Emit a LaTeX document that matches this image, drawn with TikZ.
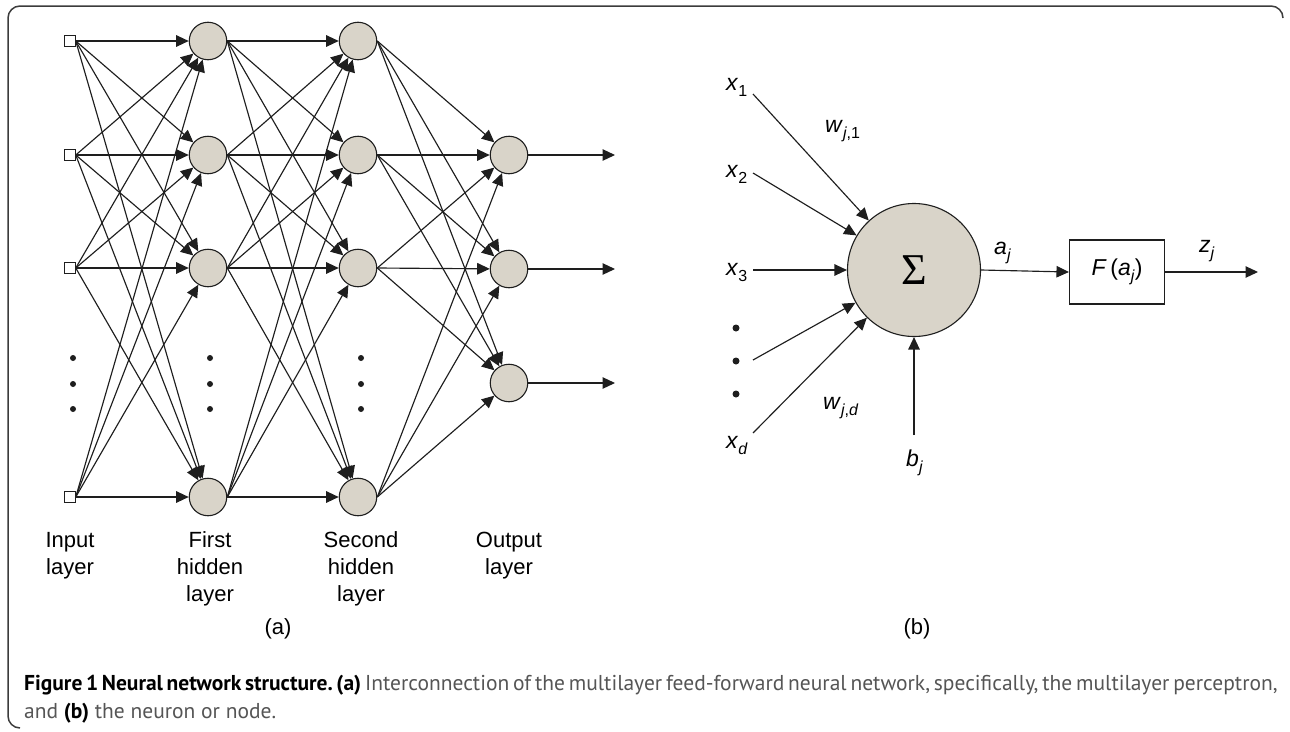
\documentclass[tikz,border=0pt]{standalone}
\usepackage{fontspec}
\setmainfont{Liberation Sans}
\newfontfamily\capfont{PT Sans}
\newfontfamily\sigfont{Liberation Serif}
\usetikzlibrary{arrows.meta}
\definecolor{nodefill}{RGB}{217,212,201}
\definecolor{ink}{RGB}{30,30,30}
\definecolor{captext}{RGB}{85,85,85}
\definecolor{framec}{RGB}{60,60,60}
\newcommand\lsub[1]{\raisebox{-0.5ex}{\fontsize{16}{16}\selectfont #1}}
\frenchspacing
\begin{document}
\begin{tikzpicture}[x=1pt,y=-1pt,
  neuron/.style={circle,draw=ink,line width=1.1pt,fill=nodefill,minimum size=37.5pt,inner sep=0pt},
  inbox/.style={rectangle,draw=ink,line width=1pt,fill=white,minimum size=10.5pt,inner sep=0pt},
  conn/.style={draw=ink,line width=1.15pt,-{Triangle[length=12.5pt,width=11.5pt]}},
  lab/.style={font=\fontsize{22}{27}\selectfont,anchor=base,inner sep=0pt},
  blab/.style={font=\fontsize{23}{23}\selectfont,anchor=base west,inner sep=0pt},
  dotc/.style={circle,fill=ink,minimum size=6pt,inner sep=0pt},
  bdot/.style={circle,fill=ink,minimum size=7pt,inner sep=0pt},
  fbox/.style={rectangle,draw=ink,line width=1.1pt,fill=white,minimum width=95pt,minimum height=64pt,inner sep=0pt,font=\fontsize{23}{23}\selectfont},
  capline/.style={anchor=base west,inner sep=0pt,font=\capfont\fontsize{21.5}{28}\selectfont,text=captext}
]
\useasboundingbox (0,0) rectangle (1290,731);
% frame
\draw[framec,line width=1.5pt,rounded corners=12pt] (20,728) -- (8,728) -- (8,6) -- (1283,6) -- (1283,18);

% ---------- (a) network ----------
\foreach \n/\y in {1/41,2/155,3/268,4/497}{
  \node[inbox] (in\n) at (70,\y) {};
  \node[neuron] (ha\n) at (208,\y) {};
  \node[neuron] (hb\n) at (358,\y) {};
}
\foreach \n/\y in {1/155,2/269,3/383}{
  \node[neuron] (out\n) at (509,\y) {};
  \coordinate (end\n) at (615,\y);
}
\foreach \i in {1,...,4}{
  \foreach \j in {1,...,4}{
    \draw[conn] (in\i.east) -- (ha\j);
    \draw[conn] (ha\i.east) -- (hb\j);
  }
  \foreach \j in {1,2,3}{
    \draw[conn] (hb\i.east) -- (out\j);
  }
}
\foreach \j in {1,2,3}{ \draw[conn] (out\j) -- (end\j); }
\foreach \x/\c in {73/a,210/b,361/c}{
  \foreach \y/\k in {358/1,384/2,409/3}{
    \node[dotc] (d\c\k) at (\x,\y) {};
  }
}
\node[lab] (l1a) at (70,547) {Input};
\node[lab] (l1b) at (70,574) {layer};
\node[lab] (l2a) at (210,547) {First};
\node[lab] (l2b) at (210,574) {hidden};
\node[lab] (l2c) at (210,601) {layer};
\node[lab] (l3a) at (361,547) {Second};
\node[lab] (l3b) at (361,574) {hidden};
\node[lab] (l3c) at (361,601) {layer};
\node[lab] (l4a) at (509,547) {Output};
\node[lab] (l4b) at (509,574) {layer};
\node[lab] (capa) at (278,634) {(a)};

% ---------- (b) neuron ----------
\node[circle,draw=ink,line width=1.1pt,fill=nodefill,minimum size=133pt,inner sep=0pt] (sig) at (914,270) {};
\node[font=\sigfont\fontsize{44}{44}\selectfont] (sigma) at (914,270) {Σ};
\node[fbox] (F) at (1117,272) {\textit{F}\,(\textit{a}\lsub{\textit{j}})};
\coordinate (s1) at (753,94);
\coordinate (s2) at (753,173);
\coordinate (s3) at (753,270);
\coordinate (s4) at (753,360);
\coordinate (s5) at (753,433);
\coordinate (sb) at (914,435);
\coordinate (zend) at (1258,272);
\foreach \s in {s1,s2,s3,s4,s5,sb}{ \draw[conn] (\s) -- (sig); }
\draw[conn] (sig.east) -- (F.west);
\draw[conn] (F.east) -- (zend);
\node[bdot] (bd1) at (736,328) {};
\node[bdot] (bd2) at (736,361) {};
\node[bdot] (bd3) at (736,394) {};
\node[blab] (x1) at (726,90) {\textit{x}\lsub{1}};
\node[blab] (x2) at (726,177) {\textit{x}\lsub{2}};
\node[blab] (x3) at (726,275) {\textit{x}\lsub{3}};
\node[blab] (xd) at (726,448) {\textit{x}\lsub{\textit{d}}};
\node[blab] (w1) at (825,132) {\textit{w}\lsub{\textit{j},1}};
\node[blab] (wd) at (823,409) {\textit{w}\lsub{\textit{j},\textit{d}}};
\node[blab] (aj) at (994,254) {\textit{a}\lsub{\textit{j}}};
\node[blab] (zj) at (1199,252) {\textit{z}\lsub{\textit{j}}};
\node[blab] (bj) at (906,466) {\textit{b}\lsub{\textit{j}}};
\node[lab] (capb) at (917,634) {(b)};

% ---------- caption ----------
\node[capline] (cap1) at (24,690)
 {\makebox[1253pt][s]{{\color{black}\bfseries Figure 1 Neural network structure. (a)} Interconnection of the multilayer feed-forward neural network, specifically, the multilayer perceptron,}};
\node[capline] (cap2) at (24,718)
 {and {\color{black}\bfseries (b)} the neuron or node.};
\end{tikzpicture}
\end{document}
